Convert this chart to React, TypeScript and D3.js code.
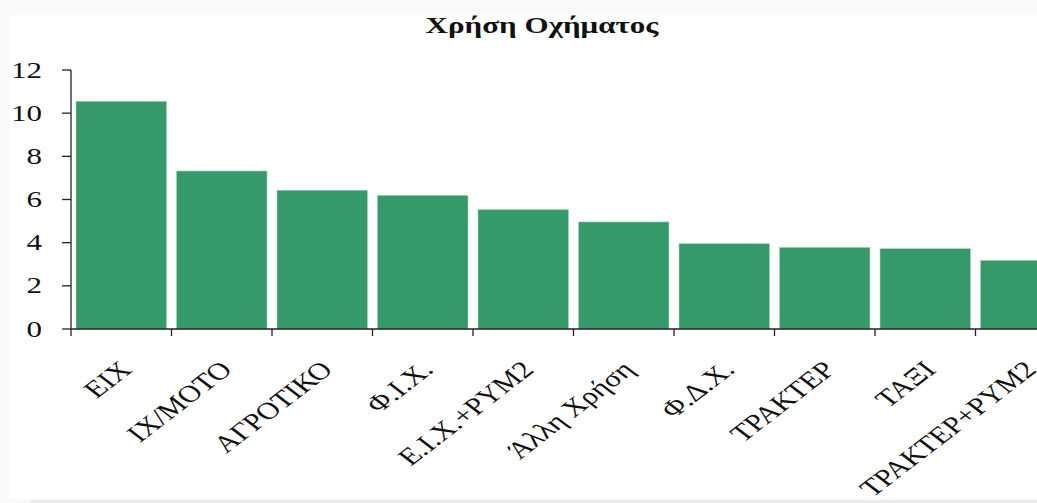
import React from "react";
import * as d3 from "d3";

const title = "Χρήση Οχήματος";
const categories = ["ΕΙΧ", "ΙΧ/ΜΟΤΟ", "ΑΓΡΟΤΙΚΟ", "Φ.Ι.Χ.", "Ε.Ι.Χ.+ΡΥΜ2", "Άλλη Χρήση", "Φ.Δ.Χ.", "ΤΡΑΚΤΕΡ", "ΤΑΞΙ", "ΤΡΑΚΤΕΡ+ΡΥΜ2"];
const values = [10.55, 7.32, 6.43, 6.19, 5.53, 4.96, 3.95, 3.78, 3.72, 3.18];
const yTicks = [0, 2, 4, 6, 8, 10, 12];

const W = 1037;
const H = 503;
const SX = 1.3;
const FONT = "'Liberation Serif', 'Times New Roman', serif";

export default function App() {
  const x = d3.scaleBand<string>().domain(categories).range([71, 1076]).paddingInner(0.1).paddingOuter(0.05);
  const y = d3.scaleLinear().domain([0, 12]).range([329, 70]);
  const step = x.step();
  const x0 = x.range()[0];
  const y0 = y(0);
  return (
    <svg width={W} height={H} style={{ position: "absolute", left: 0, top: 0, display: "block" }}>
      <rect x={0} y={0} width={W} height={H} fill="#f9f9f9" />
      <rect x={10} y={15} width={W - 10} height={484} fill="#ffffff" />
      <line x1={30} x2={W} y1={501.5} y2={501.5} stroke="#e4e4e4" strokeWidth={1.5} />
      <text
        transform={`translate(542,33) scale(1.35,1)`}
        textAnchor="middle"
        fontFamily={FONT}
        fontWeight="bold"
        fontSize={23}
        fill="#111"
      >
        {title}
      </text>
      {categories.map((c, i) => (
        <rect
          key={c}
          x={x(c)}
          y={y(values[i])}
          width={x.bandwidth()}
          height={y0 - y(values[i])}
          fill="#35996a"
          stroke="#9fd3b8"
          strokeWidth={0.6}
        />
      ))}
      {/* y axis */}
      <line x1={71} x2={71} y1={y(12)} y2={y0} stroke="#222" strokeWidth={1.3} />
      {yTicks.map((t) => (
        <g key={t}>
          <line x1={62} x2={71} y1={y(t)} y2={y(t)} stroke="#222" strokeWidth={1.3} />
          <text
            transform={`translate(42,${y(t)}) scale(1.35,1)`}
            textAnchor="end"
            dominantBaseline="central"
            fontFamily={FONT}
            fontSize={23}
            fill="#111"
          >
            {t}
          </text>
        </g>
      ))}
      {/* x axis */}
      <line x1={71} x2={W} y1={y0} y2={y0} stroke="#222" strokeWidth={1.3} />
      {d3.range(categories.length + 1).map((i) => (
        <line key={i} x1={x0 + i * step} x2={x0 + i * step} y1={y0} y2={y0 + 7} stroke="#222" strokeWidth={1.3} />
      ))}
      {categories.map((c) => (
        <text
          key={c}
          transform={`translate(${(x(c) as number) + x.bandwidth() / 2 + 12},371) scale(${SX},1) rotate(-45)`}
          textAnchor="end"
          fontFamily={FONT}
          fontSize={24}
          fill="#111"
        >
          {c}
        </text>
      ))}
    </svg>
  );
}
